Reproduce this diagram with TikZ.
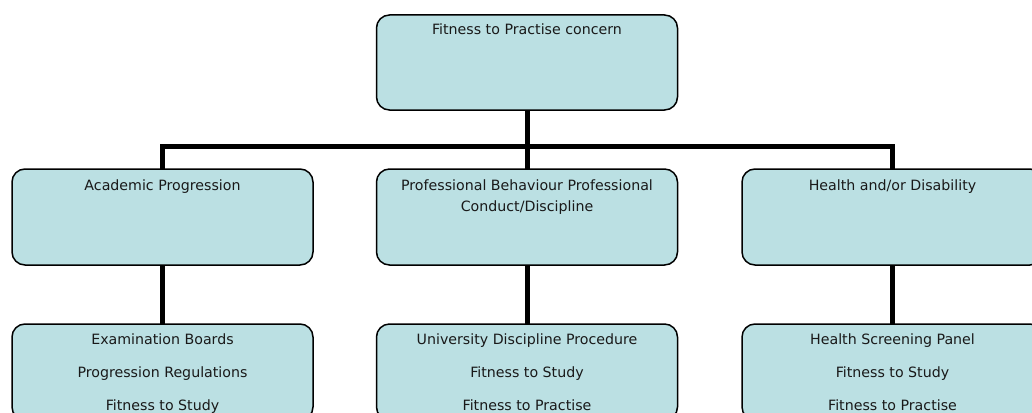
\documentclass[tikz,border=0pt]{standalone}
\usepackage{fontspec}
\setmainfont{DejaVu Sans}
\usetikzlibrary{calc,backgrounds}
\definecolor{boxfill}{RGB}{187,224,227}
\tikzset{
  fbox/.style={draw=black, line width=1.5pt, fill=boxfill, rounded corners=13pt,
    minimum width=301pt, minimum height=96pt, inner sep=0pt, outer sep=0pt},
  conn/.style={line width=5pt, draw=black, line join=miter},
  txt/.style={font=\fontsize{14.2pt}{16pt}\selectfont, anchor=base, inner sep=0pt, text=black!90}
}
\begin{document}
\begin{tikzpicture}[x=1pt, y=-1pt]
\clip (0,0) rectangle (1032,412);
\coordinate (bar) at (0,146);
\node[fbox, minimum height=95pt] (top) at (527,62.5) {};
\node[fbox] (left) at (162.5,217) {};
\node[fbox] (mid) at (527,217) {};
\node[fbox] (right) at (892.5,217) {};
\node[fbox] (leftb) at (162.5,372) {};
\node[fbox] (midb) at (527,372) {};
\node[fbox] (rightb) at (892.5,372) {};
\begin{scope}[on background layer]
\fill[white] (0,0) rectangle (1032,412);
\draw[conn] (left.north) |- (right.north |- bar) -- (right.north);
\draw[conn] (top.south) -- (mid.north);
\draw[conn] (left.south) -- (leftb.north);
\draw[conn] (mid.south) -- (midb.north);
\draw[conn] (right.south) -- (rightb.north);
\end{scope}
\node[txt] (t0) at ($(top.north)+(0,20)$) {Fitness to Practise concern};
\node[txt] (t1) at ($(left.north)+(0,21)$) {Academic Progression};
\node[txt] (t2a) at ($(mid.north)+(0,21)$) {Professional Behaviour Professional};
\node[txt] (t2b) at ($(mid.north)+(0,42)$) {Conduct/Discipline};
\node[txt] (t3) at ($(right.north)+(0,21)$) {Health and/or Disability};
\node[txt] (b1a) at ($(leftb.north)+(0,20)$) {Examination Boards};
\node[txt] (b1b) at ($(leftb.north)+(0,53)$) {Progression Regulations};
\node[txt] (b1c) at ($(leftb.north)+(0,86)$) {Fitness to Study};
\node[txt] (b2a) at ($(midb.north)+(0,20)$) {University Discipline Procedure};
\node[txt] (b2b) at ($(midb.north)+(0,53)$) {Fitness to Study};
\node[txt] (b2c) at ($(midb.north)+(0,86)$) {Fitness to Practise};
\node[txt] (b3a) at ($(rightb.north)+(0,20)$) {Health Screening Panel};
\node[txt] (b3b) at ($(rightb.north)+(0,53)$) {Fitness to Study};
\node[txt] (b3c) at ($(rightb.north)+(0,86)$) {Fitness to Practise};
\end{tikzpicture}
\end{document}
